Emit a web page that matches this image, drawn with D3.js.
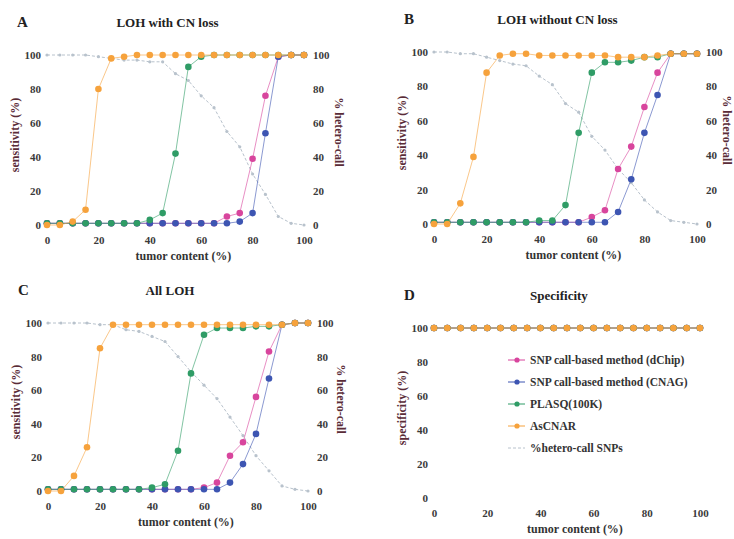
<!DOCTYPE html>
<html>
<head>
<meta charset="utf-8">
<script src="https://cdn.jsdelivr.net/npm/d3@7"></script>
<style>
  body { margin: 0; background: #fff; }
  svg text { font-family: "Liberation Serif", "DejaVu Serif", serif; font-weight: bold; }
</style>
</head>
<body>
<div id="chart"></div>
<script>
// tumor content (%) for every point
const tumorContent = [0, 5, 10, 15, 20, 25, 30, 35, 40, 45, 50, 55, 60, 65, 70, 75, 80, 85, 90, 95, 100];
const axisTicks = [0, 20, 40, 60, 80, 100];

const seriesNames = ["SNP call-based method (dChip)", "SNP call-based method (CNAG)", "PLASQ(100K)", "AsCNAR", "%hetero-call SNPs"];
const seriesColors = ["#d8459d", "#3d55b2", "#2f9c66", "#f6a23c", "#b8c2cc"];

// A: LOH with CN loss
const aDchip  = [1, 1, 1, 1, 1, 1, 1, 1, 1, 1, 1, 1, 1, 1, 5, 7, 39, 76, 99, 100, 100];
const aCnag   = [1, 1, 1, 1, 1, 1, 1, 1, 1, 1, 1, 1, 1, 1, 1, 2, 7, 54, 99, 100, 100];
const aPlasq  = [1, 1, 1, 1, 1, 1, 1, 1, 3, 7, 42, 93, 99, 100, 100, 100, 100, 100, 100, 100, 100];
const aAscnar = [0, 0, 2, 9, 80, 98, 99, 100, 100, 100, 100, 100, 100, 100, 100, 100, 100, 100, 100, 100, 100];
const aHetero = [100, 100, 100, 100, 99, 98, 97, 97, 96, 96, 89, 85, 76, 69, 55, 46, 30, 18, 5, 1, 0];

// B: LOH without CN loss
const bDchip  = [1, 1, 1, 1, 1, 1, 1, 1, 1, 1, 1, 1, 4, 8, 32, 45, 68, 88, 99, 99, 99];
const bCnag   = [1, 1, 1, 1, 1, 1, 1, 1, 1, 1, 1, 1, 1, 1, 7, 26, 53, 75, 99, 99, 99];
const bPlasq  = [1, 1, 1, 1, 1, 1, 1, 1, 2, 2, 11, 53, 88, 94, 94, 95, 97, 97, 99, 99, 99];
const bAscnar = [0, 0, 12, 39, 88, 98, 99, 99, 98, 98, 98, 98, 98, 98, 97, 97, 97, 98, 99, 99, 99];
const bHetero = [100, 100, 99, 99, 97, 95, 93, 92, 86, 81, 70, 65, 51, 43, 32, 24, 14, 7, 2, 1, 0];

// C: All LOH
const cDchip  = [1, 1, 1, 1, 1, 1, 1, 1, 1, 1, 1, 1, 2, 5, 21, 29, 56, 83, 99, 100, 100];
const cCnag   = [1, 1, 1, 1, 1, 1, 1, 1, 1, 1, 1, 1, 1, 1, 5, 16, 34, 67, 99, 100, 100];
const cPlasq  = [1, 1, 1, 1, 1, 1, 1, 1, 2, 4, 24, 70, 93, 97, 97, 97, 98, 98, 99, 100, 100];
const cAscnar = [0, 0, 9, 26, 85, 99, 99, 99, 99, 99, 99, 99, 99, 99, 99, 99, 99, 99, 99, 100, 100];
const cHetero = [100, 100, 100, 100, 99, 99, 96, 95, 92, 89, 80, 71, 63, 55, 44, 33, 21, 12, 3, 1, 0];

// D: Specificity
const dDchip  = [100, 100, 100, 100, 100, 100, 100, 100, 100, 100, 100, 100, 100, 100, 100, 100, 100, 100, 100, 100, 100];
const dCnag   = [100, 100, 100, 100, 100, 100, 100, 100, 100, 100, 100, 100, 100, 100, 100, 100, 100, 100, 100, 100, 100];
const dPlasq  = [100, 100, 100, 100, 100, 100, 100, 100, 100, 100, 100, 100, 100, 100, 100, 100, 100, 100, 100, 100, 100];
const dAscnar = [100, 100, 100, 100, 100, 100, 100, 100, 100, 100, 100, 100, 100, 100, 100, 100, 100, 100, 100, 100, 100];

const width = 734, height = 539;

const svg = d3.select("#chart").append("svg")
    .attr("width", width)
    .attr("height", height)
    .attr("viewBox", [0, 0, width, height]);

const panels = [
    {letter: "A", title: "LOH with CN loss", yLabel: "sensitivity (%)", x0: 47, x1: 304, yTop: 55, yBot: 225, rOff: 31,
     series: [aDchip, aCnag, aPlasq, aAscnar], hetero: aHetero},
    {letter: "B", title: "LOH without CN loss", yLabel: "sensitivity (%)", x0: 434, x1: 697, yTop: 52, yBot: 224, rOff: 26,
     series: [bDchip, bCnag, bPlasq, bAscnar], hetero: bHetero},
    {letter: "C", title: "All LOH", yLabel: "sensitivity (%)", x0: 48, x1: 308, yTop: 323, yBot: 491, rOff: 29,
     series: [cDchip, cCnag, cPlasq, cAscnar], hetero: cHetero},
    {letter: "D", title: "Specificity", yLabel: "specificity (%)", x0: 434, x1: 700, yTop: 328, yBot: 498, rOff: 0,
     series: [dDchip, dCnag, dPlasq, dAscnar], hetero: null}
];

panels.forEach(p => {
    const g = svg.append("g");
    const x = d3.scaleLinear().domain([0, 100]).range([p.x0, p.x1]);
    const y = d3.scaleLinear().domain([0, 100]).range([p.yBot, p.yTop]);

    // letter and title
    g.append("text").attr("x", p.x0 - 30).attr("y", p.yTop - 28)
        .attr("font-size", 15).attr("fill", "#222").text(p.letter);
    g.append("text").attr("x", (p.x0 + p.x1) / 2 - 8).attr("y", p.yTop - 28)
        .attr("text-anchor", "middle").attr("font-size", 13).attr("fill", "#222").text(p.title);

    // axes (labels only)
    const left = g.append("g").attr("transform", `translate(${p.x0},0)`)
        .call(d3.axisLeft(y).tickValues(axisTicks).tickSize(0).tickPadding(6));
    const bottom = g.append("g").attr("transform", `translate(0,${p.yBot})`)
        .call(d3.axisBottom(x).tickValues(axisTicks).tickSize(0).tickPadding(11));
    [left, bottom].forEach(a => {
        a.select(".domain").remove();
        a.selectAll("text").attr("font-size", 11).attr("fill", "#3a3a3a")
            .attr("font-family", "Liberation Serif").attr("font-weight", "bold");
    });

    g.append("text").attr("x", (p.x0 + p.x1) / 2 + 8).attr("y", p.yBot + 35)
        .attr("text-anchor", "middle").attr("font-size", 12).attr("fill", "#333")
        .text("tumor content (%)");
    g.append("text")
        .attr("transform", `translate(${p.x0 - 28},${(p.yTop + p.yBot) / 2 - 5}) rotate(-90)`)
        .attr("text-anchor", "middle").attr("font-size", 12).attr("fill", "#5a2c38")
        .text(p.yLabel);

    if (p.hetero) {
        const right = g.append("g").attr("transform", `translate(${p.x1},0)`)
            .call(d3.axisRight(y).tickValues(axisTicks).tickSize(0).tickPadding(9));
        right.select(".domain").remove();
        right.selectAll("text").attr("font-size", 11).attr("fill", "#3a3a3a")
            .attr("font-family", "Liberation Serif").attr("font-weight", "bold");
        g.append("text")
            .attr("transform", `translate(${p.x1 + p.rOff},${(p.yTop + p.yBot) / 2 - 8}) rotate(90)`)
            .attr("text-anchor", "middle").attr("font-size", 12).attr("fill", "#5a2c38")
            .text("% hetero-call");

        const pts = tumorContent.map((t, i) => [t, p.hetero[i]]);
        g.append("path").datum(pts)
            .attr("fill", "none").attr("stroke", seriesColors[4]).attr("stroke-width", 1)
            .attr("stroke-dasharray", "3,2")
            .attr("d", d3.line().x(d => x(d[0])).y(d => y(d[1])));
        g.selectAll(".het").data(pts).join("circle")
            .attr("cx", d => x(d[0])).attr("cy", d => y(d[1])).attr("r", 1.6)
            .attr("fill", seriesColors[4]);
    }

    p.series.forEach((vals, si) => {
        const pts = tumorContent.map((t, i) => [t, vals[i]]);
        const color = seriesColors[si];
        g.append("path").datum(pts)
            .attr("fill", "none").attr("stroke", color).attr("stroke-width", 1)
            .attr("stroke-opacity", 0.6)
            .attr("d", d3.line().x(d => x(d[0])).y(d => y(d[1])));
        g.append("g").selectAll("circle").data(pts).join("circle")
            .attr("cx", d => x(d[0])).attr("cy", d => y(d[1])).attr("r", 3.3)
            .attr("fill", color);
    });
});

// legend inside panel D
const legend = svg.append("g").attr("transform", "translate(508,360)");
seriesNames.forEach((name, i) => {
    const item = legend.append("g").attr("transform", `translate(0,${i * 22})`);
    item.append("line").attr("x1", 0).attr("x2", 17).attr("y1", 0).attr("y2", 0)
        .attr("stroke", seriesColors[i]).attr("stroke-width", 1)
        .attr("stroke-dasharray", i === 4 ? "3,2" : null);
    if (i < 4) item.append("circle").attr("cx", 9).attr("cy", 0).attr("r", 2.6).attr("fill", seriesColors[i]);
    item.append("text").attr("x", 22).attr("y", 0).attr("dy", "0.35em")
        .attr("font-size", 11.5).attr("fill", "#333").text(name);
});
</script>
</body>
</html>
